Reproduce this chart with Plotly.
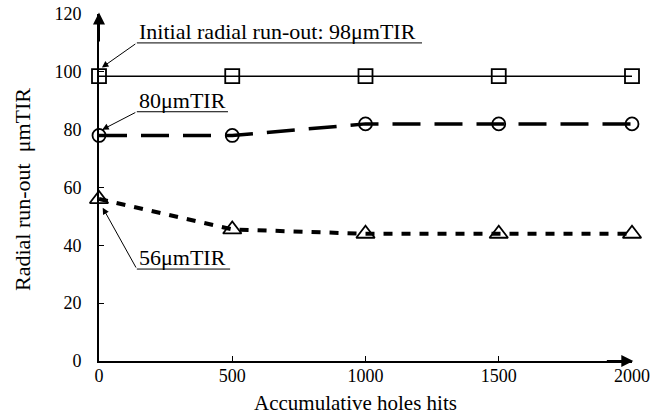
import plotly.graph_objects as go

holes = [0, 500, 1000, 1500, 2000]
runout_98 = [98.5, 98.5, 98.5, 98.5, 98.5]
runout_80 = [78, 78, 82, 82, 82]
runout_56 = [56, 45.5, 44, 44, 44]

x_ticks = [0, 500, 1000, 1500, 2000]
y_ticks = [0, 20, 40, 60, 80, 100, 120]

FONT = "Liberation Serif, Times New Roman, serif"

W, H = 659, 418
L, R, T, B = 99, 27, 14, 57
pw, ph = W - L - R, H - T - B


def px_to_paper(px, py):
    return (px - L) / pw, (H - B - py) / ph


fig = go.Figure()
fig.add_trace(go.Scatter(x=holes, y=runout_98, mode="lines+markers",
                         line=dict(color="black", width=1.5),
                         marker=dict(symbol="square-open", size=14, color="black", line=dict(width=1.8)),
                         cliponaxis=False, showlegend=False))
fig.add_trace(go.Scatter(x=holes, y=runout_80, mode="lines+markers",
                         line=dict(color="black", width=3.5, dash="28px,14px"),
                         marker=dict(symbol="circle-open", size=13, color="black", line=dict(width=1.8)),
                         cliponaxis=False, showlegend=False))
fig.add_trace(go.Scatter(x=holes, y=runout_56, mode="lines+markers",
                         line=dict(color="black", width=4, dash="9px,9px"),
                         marker=dict(symbol="triangle-up-open", size=16, color="black", line=dict(width=1.8)),
                         cliponaxis=False, showlegend=False))

# axis arrows
fig.add_annotation(x=2005, y=0, ax=1900, ay=0, xref="x", yref="y", axref="x", ayref="y",
                   showarrow=True, arrowhead=2, arrowsize=1.2, arrowwidth=2, arrowcolor="black", text="")
fig.add_annotation(x=0, y=120.5, ax=0, ay=110, xref="x", yref="y", axref="x", ayref="y",
                   showarrow=True, arrowhead=2, arrowsize=1.2, arrowwidth=2, arrowcolor="black", text="")

# callouts
callouts = [
    ("Initial radial run-out: 98μmTIR", 142, 110, 11, 101.5, 1212),
    ("80μmTIR", 142, 86.2, 12, 80, 484),
    ("56μmTIR", 142, 31.8, 14, 53, 492),
]
for text, tx, ty, hx, hy, ux in callouts:
    fig.add_annotation(x=hx, y=hy, ax=tx, ay=ty, xref="x", yref="y", axref="x", ayref="y",
                       showarrow=True, arrowhead=2, arrowsize=1.3, arrowwidth=1, arrowcolor="black", text="")
    fig.add_shape(type="line", x0=tx, x1=ux, y0=ty, y1=ty, xref="x", yref="y",
                  line=dict(color="black", width=1))
    fig.add_annotation(x=tx, y=ty, xref="x", yref="y", text=text, showarrow=False,
                       xanchor="left", yanchor="bottom", yshift=-3,
                       font=dict(family=FONT, size=22, color="black"))

# axis titles
xt, yt = px_to_paper(355, 403)
fig.add_annotation(x=xt, y=yt, xref="paper", yref="paper", text="Accumulative holes hits",
                   showarrow=False, xanchor="center", yanchor="middle",
                   font=dict(family=FONT, size=21, color="black"))
xt, yt = px_to_paper(22, 190)
fig.add_annotation(x=xt, y=yt, xref="paper", yref="paper", text="Radial run-out  μmTIR",
                   showarrow=False, xanchor="center", yanchor="middle", textangle=-90,
                   font=dict(family=FONT, size=22, color="black"))

fig.update_layout(
    width=W, height=H,
    margin=dict(l=L, r=R, t=T, b=B, autoexpand=False),
    paper_bgcolor="white", plot_bgcolor="white",
    font=dict(family=FONT, size=18, color="black"),
    xaxis=dict(range=[0, 2000], tickvals=x_ticks, ticktext=[str(v) for v in x_ticks],
               showline=True, linecolor="black", linewidth=2, ticks="inside", ticklen=5,
               tickcolor="black", showgrid=False, zeroline=False, automargin=False,
               ticklabelstandoff=-3),
    yaxis=dict(range=[0, 120], tickvals=y_ticks, ticktext=[str(v) for v in y_ticks],
               showline=True, linecolor="black", linewidth=2, ticks="inside", ticklen=5,
               tickcolor="black", showgrid=False, zeroline=False, automargin=False,
               ticklabelstandoff=12),
)

fig.write_html("out.html", config={"displayModeBar": False},
               post_script="document.body.style.margin='0px';")
